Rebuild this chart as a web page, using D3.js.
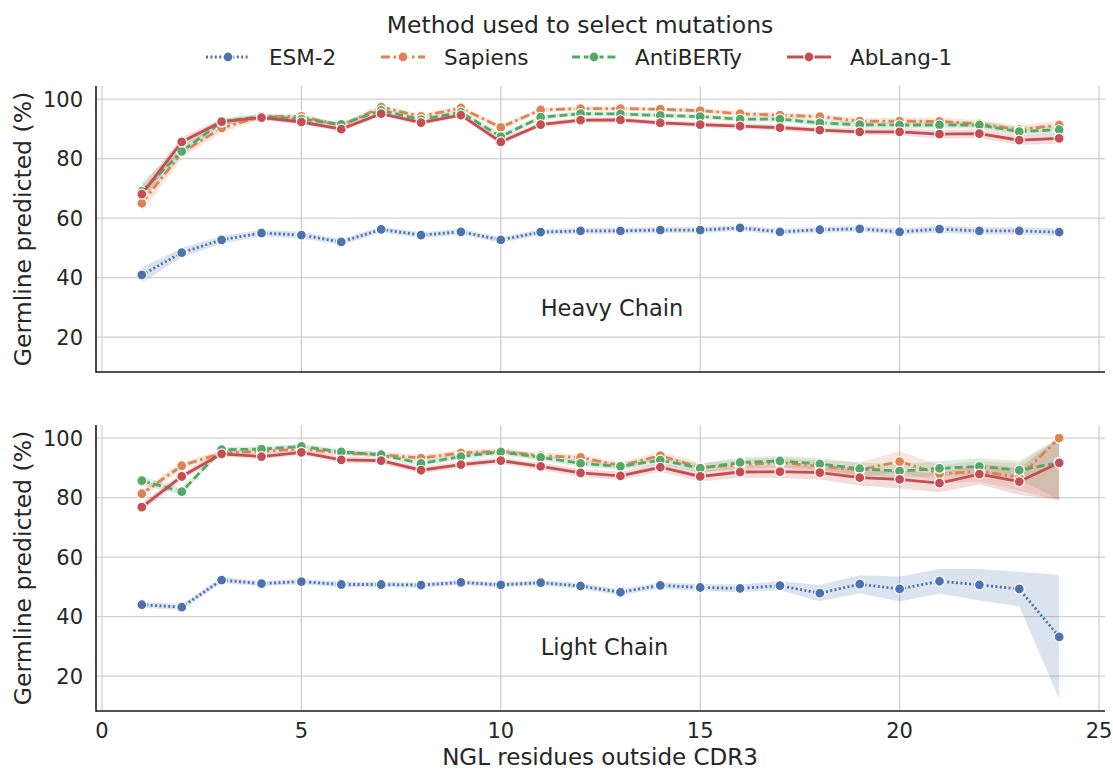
<!DOCTYPE html>
<html>
<head>
<meta charset="utf-8">
<script src="https://cdn.jsdelivr.net/npm/d3@7"></script>
<style>
    body { margin: 0; background: white; }
    text { font-family: "DejaVu Sans", sans-serif; fill: #262626; }
</style>
</head>
<body>
<svg id="chart" width="1113" height="771"></svg>
<script>
"use strict"

// NGL residues outside CDR3 (x positions)
const ngl = [1, 2, 3, 4, 5, 6, 7, 8, 9, 10, 11, 12, 13, 14, 15, 16, 17, 18, 19, 20, 21, 22, 23, 24];

const methods = ["ESM-2", "Sapiens", "AntiBERTy", "AbLang-1"];
const colors = ["#4c72b0", "#dd8452", "#55a868", "#c44e52"];
const dashes = ["2,2.4", "9,3.5,2.5,3.5", "8,3.8", null];

// Heavy chain, germline predicted (%), mean and ci half width
const heavyEsm = [40.9, 48.4, 52.7, 55.0, 54.3, 52.0, 56.2, 54.3, 55.4, 52.7, 55.3, 55.7, 55.7, 56.0, 56.0, 56.7, 55.4, 56.1, 56.4, 55.4, 56.3, 55.7, 55.7, 55.3];
const heavySapiens = [65.0, 82.0, 90.3, 94.2, 94.2, 91.1, 97.3, 94.2, 97.0, 90.5, 96.4, 96.8, 96.8, 96.6, 96.1, 95.1, 94.6, 94.1, 92.6, 92.6, 92.5, 91.7, 89.7, 91.3];
const heavyAntiberty = [69.0, 82.4, 92.3, 94.2, 93.3, 91.5, 96.2, 93.1, 95.6, 87.4, 93.9, 95.1, 95.0, 94.5, 94.1, 93.3, 93.3, 92.0, 91.4, 91.3, 91.3, 91.3, 89.1, 89.7];
const heavyAblang = [68.1, 85.6, 92.4, 93.8, 92.3, 89.9, 95.1, 92.1, 94.6, 85.6, 91.4, 92.9, 93.0, 92.0, 91.4, 90.9, 90.4, 89.6, 89.0, 89.0, 88.2, 88.4, 86.2, 86.8];

const heavyEsmCi = [2.5, 1.6, 1.3, 1.1, 1.1, 1.0, 1.0, 1.0, 1.0, 1.0, 1.0, 1.0, 1.0, 1.0, 1.0, 1.0, 1.0, 1.0, 1.0, 1.0, 1.2, 1.2, 1.2, 1.3];
const heavySapiensCi = [3.0, 2.0, 1.5, 0.9, 0.8, 0.8, 0.7, 0.8, 0.7, 1.0, 0.7, 0.7, 0.7, 0.7, 0.8, 0.8, 0.8, 0.9, 1.0, 1.1, 1.2, 1.3, 1.4, 1.5];
const heavyAntibertyCi = [3.0, 1.8, 1.2, 0.9, 0.8, 0.8, 0.8, 0.8, 0.8, 1.0, 0.8, 0.8, 0.8, 0.8, 0.8, 0.9, 0.9, 1.0, 1.0, 1.1, 1.2, 1.3, 1.4, 1.5];
const heavyAblangCi = [2.5, 1.6, 1.1, 0.9, 0.9, 0.9, 0.8, 0.9, 0.8, 1.1, 0.9, 0.9, 0.9, 0.9, 0.9, 1.0, 1.0, 1.0, 1.1, 1.2, 1.4, 1.5, 1.6, 1.7];

// Light chain
const lightEsm = [44.0, 43.2, 52.3, 51.1, 51.8, 50.8, 50.8, 50.6, 51.5, 50.7, 51.4, 50.3, 48.2, 50.5, 49.8, 49.5, 50.4, 47.9, 50.9, 49.3, 51.9, 50.7, 49.3, 33.2];
const lightSapiens = [81.3, 90.7, 95.0, 95.5, 96.3, 95.0, 94.4, 93.3, 95.0, 95.6, 94.1, 93.5, 90.7, 94.1, 90.1, 91.0, 91.8, 90.5, 89.3, 92.1, 88.0, 88.8, 86.9, 100];
const lightAntiberty = [85.7, 82.0, 96.1, 96.3, 97.2, 95.4, 94.4, 91.5, 93.8, 95.4, 93.5, 91.5, 90.5, 92.6, 89.9, 91.8, 92.3, 91.3, 89.7, 88.9, 89.8, 90.5, 89.2, 91.8];
const lightAblang = [76.8, 87.1, 94.7, 93.8, 95.2, 92.7, 92.4, 89.2, 91.1, 92.4, 90.5, 88.3, 87.3, 90.2, 87.1, 88.6, 88.7, 88.4, 86.7, 86.1, 84.9, 87.9, 85.4, 91.7];

const lightEsmCi = [1.0, 1.0, 1.0, 0.9, 0.9, 0.9, 0.9, 0.9, 0.9, 0.9, 0.9, 1.0, 1.0, 1.1, 1.2, 1.3, 1.5, 2.7, 3.0, 4.2, 4.1, 5.3, 5.8, 20.8];
const lightSapiensCi = [1.5, 1.2, 1.0, 0.9, 0.9, 0.9, 0.9, 1.0, 1.0, 1.0, 1.0, 1.1, 1.3, 1.4, 1.5, 1.7, 1.8, 2.0, 2.5, 3.5, 3.0, 3.5, 4.5, 21.0];
const lightAntibertyCi = [1.5, 1.2, 0.9, 0.9, 0.8, 0.9, 0.9, 1.0, 1.0, 1.0, 1.0, 1.1, 1.2, 1.4, 1.5, 1.7, 1.8, 2.0, 2.1, 2.3, 2.5, 2.7, 3.2, 12.5];
const lightAblangCi = [1.5, 1.2, 1.0, 0.9, 0.9, 1.0, 1.0, 1.1, 1.1, 1.1, 1.2, 1.3, 1.4, 1.5, 1.7, 1.9, 2.1, 2.3, 2.6, 3.0, 3.1, 3.5, 4.5, 12.4];

const xTicks = [0, 5, 10, 15, 20, 25];
const yTicks = [20, 40, 60, 80, 100];

const panels = [
    {label: "Heavy Chain", top: 86, bottom: 372, xLabels: false,
     means: [heavyEsm, heavySapiens, heavyAntiberty, heavyAblang],
     cis: [heavyEsmCi, heavySapiensCi, heavyAntibertyCi, heavyAblangCi]},
    {label: "Light Chain", top: 425, bottom: 711, xLabels: true,
     means: [lightEsm, lightSapiens, lightAntiberty, lightAblang],
     cis: [lightEsmCi, lightSapiensCi, lightAntibertyCi, lightAblangCi]}
];

const left = 96, right = 1105;
const svg = d3.select("#chart");

let x = d3.scaleLinear().domain([-0.15, 25.15]).range([left, right]);

panels.forEach(function(p) {
    let y = d3.scaleLinear().domain([8.3, 104.4]).range([p.bottom, p.top]);
    let g = svg.append("g");

    // Grid lines
    g.selectAll(".vgrid").data(xTicks).enter().append("line")
        .attr("x1", function(d) { return x(d); })
        .attr("x2", function(d) { return x(d); })
        .attr("y1", p.top).attr("y2", p.bottom)
        .style("stroke", "#d0d0d0").style("stroke-width", 1.3);
    g.selectAll(".hgrid").data(yTicks).enter().append("line")
        .attr("x1", left).attr("x2", right)
        .attr("y1", function(d) { return y(d); })
        .attr("y2", function(d) { return y(d); })
        .style("stroke", "#d0d0d0").style("stroke-width", 1.3);

    // Confidence bands go under every line
    p.means.forEach(function(m, k) {
        let rows = ngl.map(function(v, i) {
            return {x: v, lo: m[i] - p.cis[k][i], hi: Math.min(100, m[i] + p.cis[k][i])};
        });
        let area = d3.area()
            .x(function(d) { return x(d.x); })
            .y0(function(d) { return y(d.lo); })
            .y1(function(d) { return y(d.hi); });
        g.append("path").datum(rows)
            .attr("d", area)
            .style("fill", colors[k])
            .style("fill-opacity", 0.2);
    });

    // Lines with markers
    p.means.forEach(function(m, k) {
        let rows = ngl.map(function(v, i) { return {x: v, y: m[i]}; });
        let line = d3.line()
            .x(function(d) { return x(d.x); })
            .y(function(d) { return y(d.y); });
        g.append("path").datum(rows)
            .attr("d", line)
            .style("fill", "none")
            .style("stroke", colors[k])
            .style("stroke-width", 2.8)
            .style("stroke-dasharray", dashes[k]);
        g.selectAll(".mk" + k).data(rows).enter().append("circle")
            .attr("cx", function(d) { return x(d.x); })
            .attr("cy", function(d) { return y(d.y); })
            .attr("r", 5)
            .style("fill", colors[k])
            .style("stroke", "white")
            .style("stroke-width", 1.2);
    });

    // Spines, left and bottom only
    g.append("line").attr("x1", left).attr("x2", left).attr("y1", p.top).attr("y2", p.bottom + 0.75)
        .style("stroke", "#1a1a1a").style("stroke-width", 1.6);
    g.append("line").attr("x1", left).attr("x2", right).attr("y1", p.bottom).attr("y2", p.bottom)
        .style("stroke", "#1a1a1a").style("stroke-width", 1.6);

    // Y tick labels
    g.selectAll(".ytick").data(yTicks).enter().append("text")
        .attr("x", 83)
        .attr("y", function(d) { return y(d); })
        .attr("dy", "0.36em")
        .attr("text-anchor", "end")
        .style("font-size", "21px")
        .text(function(d) { return d; });

    g.append("text")
        .attr("transform", "translate(23," + ((p.top + p.bottom) / 2) + ") rotate(-90)")
        .attr("dy", "0.36em")
        .attr("text-anchor", "middle")
        .style("font-size", "23.5px")
        .text("Germline predicted (%)");

    if (p.xLabels) {
        g.selectAll(".xtick").data(xTicks).enter().append("text")
            .attr("x", function(d) { return x(d); })
            .attr("y", p.bottom + 27)
            .attr("text-anchor", "middle")
            .style("font-size", "21px")
            .text(function(d) { return d; });
    }

    // Chain annotation
    g.append("text")
        .attr("x", x(11))
        .attr("y", y(30))
        .attr("dy", "0.36em")
        .style("font-size", "22.5px")
        .text(p.label);
});

svg.append("text")
    .attr("x", 600).attr("y", 765)
    .attr("text-anchor", "middle")
    .style("font-size", "23px")
    .text("NGL residues outside CDR3");

// Legend
svg.append("text")
    .attr("x", 580).attr("y", 33)
    .attr("text-anchor", "middle")
    .style("font-size", "23.5px")
    .text("Method used to select mutations");

const legendX = [206, 381, 572, 787];
methods.forEach(function(name, k) {
    let lg = svg.append("g").attr("transform", "translate(" + legendX[k] + ",57)");
    lg.append("line").attr("x1", 0).attr("x2", 44).attr("y1", 0).attr("y2", 0)
        .style("stroke", colors[k]).style("stroke-width", 2.8)
        .style("stroke-dasharray", dashes[k]);
    lg.append("circle").attr("cx", 22).attr("cy", 0).attr("r", 5)
        .style("fill", colors[k]).style("stroke", "white").style("stroke-width", 1.2);
    lg.append("text").attr("x", 63).attr("y", 0).attr("dy", "0.36em")
        .style("font-size", "21.5px")
        .text(name);
});
</script>
</body>
</html>
